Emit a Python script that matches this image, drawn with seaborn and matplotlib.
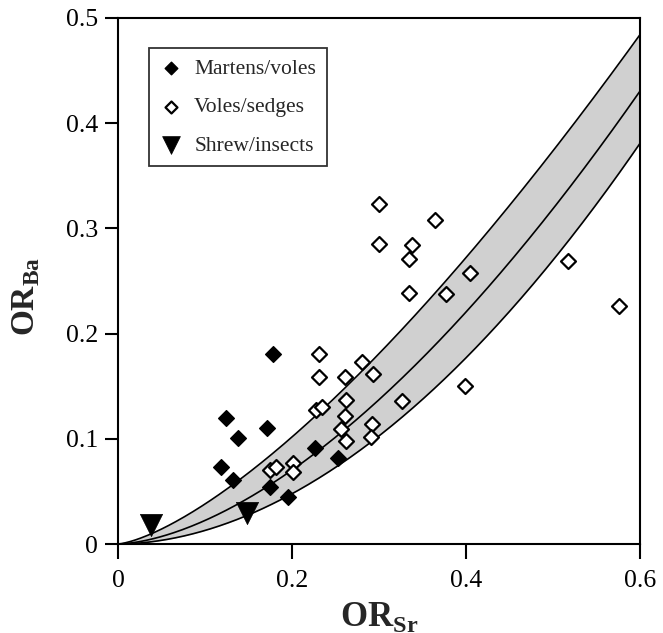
import matplotlib
matplotlib.use('Agg')
import matplotlib.pyplot as plt
import seaborn as sns
import numpy as np
import pandas as pd

# Martens/voles (filled diamonds)
martens_sr = [0.1785, 0.124, 0.1375, 0.171, 0.1185, 0.132, 0.175, 0.195, 0.227, 0.253]
martens_ba = [0.181, 0.120, 0.101, 0.110, 0.0735, 0.061, 0.054, 0.045, 0.091, 0.0815]

# Voles/sedges (open diamonds)
voles_sr = [0.231, 0.231, 0.261, 0.281, 0.2935, 0.228, 0.235, 0.262, 0.261, 0.256,
            0.262, 0.292, 0.291, 0.327, 0.175, 0.182, 0.2015, 0.2007, 0.300, 0.364,
            0.300, 0.338, 0.334, 0.334, 0.377, 0.405, 0.399, 0.517, 0.576]
voles_ba = [0.181, 0.159, 0.159, 0.173, 0.162, 0.127, 0.130, 0.137, 0.122, 0.109,
            0.098, 0.114, 0.102, 0.136, 0.070, 0.073, 0.077, 0.068, 0.323, 0.308,
            0.285, 0.284, 0.271, 0.239, 0.238, 0.258, 0.150, 0.269, 0.226]

# Shrew/insects (filled triangles)
shrew_sr = [0.0375, 0.148]
shrew_ba = [0.018, 0.029]

# model band: OR_Ba = OR_Sr ** b  (upper, mean, lower exponent)
band_exponents = [1.42, 1.65, 1.89]

x_ticks = [0, 0.2, 0.4, 0.6]
x_ticklabels = ['0', '0.2', '0.4', '0.6']
y_ticks = [0, 0.1, 0.2, 0.3, 0.4, 0.5]
y_ticklabels = ['0', '0.1', '0.2', '0.3', '0.4', '0.5']

sns.set_style('ticks')
plt.rcParams['font.family'] = ['Liberation Serif', 'DejaVu Serif']
plt.rcParams['mathtext.fontset'] = 'custom'
plt.rcParams['mathtext.rm'] = 'Liberation Serif'
plt.rcParams['mathtext.bf'] = 'Liberation Serif:bold'

fig = plt.figure(figsize=(6.63, 6.33), dpi=100)
ax = fig.add_axes([0.178, 0.1406, 0.7873, 0.831])

# shaded band + curves
xs = np.linspace(0, 0.6, 300)
curves = pd.DataFrame({'sr': xs})
for i, b in enumerate(band_exponents):
    curves[f'c{i}'] = xs ** b
ax.fill_between(curves['sr'], curves['c0'], curves['c2'], color='#d0d0d0', lw=0, zorder=1)
for i in range(3):
    sns.lineplot(data=curves, x='sr', y=f'c{i}', color='black', lw=1.2, ax=ax, zorder=2)

sns.scatterplot(x=martens_sr, y=martens_ba, marker='D', s=64, color='black',
                edgecolor='black', linewidth=1, label='Martens/voles', ax=ax, zorder=3)
sns.scatterplot(x=voles_sr, y=voles_ba, marker='D', s=58, color='white',
                edgecolor='black', linewidth=1.6, label='Voles/sedges', ax=ax, zorder=4)
sns.scatterplot(x=shrew_sr, y=shrew_ba, marker='v', s=256, color='black',
                edgecolor='black', linewidth=0.5, label='Shrew/insects', ax=ax, zorder=5)

ax.set_xlim(0, 0.6)
ax.set_ylim(0, 0.5)
ax.set_xticks(x_ticks)
ax.set_xticklabels(x_ticklabels)
ax.set_yticks(y_ticks)
ax.set_yticklabels(y_ticklabels)
ax.tick_params(axis='both', direction='out', width=1.5, labelsize=18.5, colors='black')
ax.tick_params(axis='x', length=11, pad=8)
ax.tick_params(axis='y', length=9.5, pad=5)
for sp in ax.spines.values():
    sp.set_visible(True)
    sp.set_linewidth(1.5)
    sp.set_color('black')

ax.set_xlabel(r'$\mathbf{OR}_{\mathbf{Sr}}$', fontsize=25)
ax.set_ylabel(r'$\mathbf{OR}_{\mathbf{Ba}}$', fontsize=24)
ax.xaxis.set_label_coords(0.5, -0.106)
ax.yaxis.set_label_coords(-0.145, 0.47)

leg = ax.legend(loc='upper left', bbox_to_anchor=(0.0594, 0.943), borderaxespad=0,
                fontsize=15.5, frameon=True, fancybox=False, edgecolor='black',
                markerscale=0.8, handlelength=1.0, handletextpad=0.6,
                borderpad=0.5, labelspacing=0.85)
leg.get_frame().set_linewidth(1.3)

fig.savefig('out.png', dpi=100)
